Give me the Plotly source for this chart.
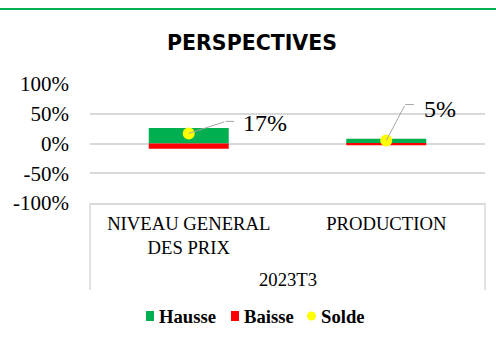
import plotly.graph_objects as go

# Survey outlook: share of positive / negative answers and the balance
categories = ["NIVEAU GENERAL<br>DES PRIX", "PRODUCTION"]
period = "2023T3"
series_names = ["Hausse", "Baisse", "Solde"]
series_colors = ["#00b050", "#ff0000", "#ffff00"]
hausse = [0.26, 0.08]
baisse = [-0.09, -0.03]
solde = [0.17, 0.05]
y_ticks = [-1.0, -0.5, 0.0, 0.5, 1.0]
y_tick_text = ["-100%", "-50%", "0%", "50%", "100%"]

W, H = 496, 341
L, R, T, B = 90, 11, 84, 138
plot_w = W - L - R
plot_h = H - T - B


def px_x(v):
    return (v - L) / plot_w


def px_y(v):
    return (H - B - v) / plot_h


serif = "Liberation Serif"
grid = "#d9d9d9"

fig = go.Figure()
fig.add_trace(go.Bar(
    x=categories, y=hausse, name=series_names[0],
    marker=dict(color=series_colors[0], line=dict(width=0)),
    hoverinfo="skip", showlegend=False,
))
fig.add_trace(go.Bar(
    x=categories, y=baisse, name=series_names[1],
    marker=dict(color=series_colors[1], line=dict(width=0)),
    hoverinfo="skip", showlegend=False,
))
fig.add_trace(go.Scatter(
    x=categories, y=solde, name=series_names[2], mode="markers",
    marker=dict(color=series_colors[2], size=12, line=dict(width=0)),
    hoverinfo="skip", showlegend=False,
))

# Data labels for the balance, joined to the point by a bent leader line
# (dx, dy: elbow offset from the point; hlen: horizontal run; gap; lift)
leader = [(37, -12, 10, 6, -2), (19, -36, 10, 8, -4)]
for cat, val, (dx, dy, hlen, gap, lift) in zip(categories, solde, leader):
    fig.add_annotation(x=cat, y=val, xref="x", yref="y", text="",
                       showarrow=True, arrowhead=0, arrowwidth=1,
                       arrowcolor="#a6a6a6", ax=dx, ay=dy,
                       axref="pixel", ayref="pixel")
    fig.add_annotation(x=cat, y=val, xref="x", yref="y", text="",
                       showarrow=True, arrowhead=0, arrowwidth=1,
                       arrowcolor="#a6a6a6", ax=hlen, ay=0,
                       xshift=dx, yshift=-dy)
    fig.add_annotation(x=cat, y=val, xref="x", yref="y",
                       text=f"{round(val * 100)}%", showarrow=False,
                       xanchor="left", yanchor="middle", borderpad=0,
                       xshift=dx + hlen + gap, yshift=-dy + lift,
                       font=dict(family=serif, size=24, color="#000000"))

# Outer group label under the category axis
fig.add_annotation(x=0.5, y=px_y(279), xref="paper", yref="paper",
                   text=period, showarrow=False, xanchor="center",
                   yanchor="middle", borderpad=0,
                   font=dict(family=serif, size=18.67, color="#000000"))

# Box around the category labels
for xv in (0, 1):
    fig.add_shape(type="line", xref="paper", yref="paper",
                  x0=xv, x1=xv, y0=0, y1=px_y(290),
                  line=dict(color=grid, width=1.5))

# Thin green rule across the top
fig.add_shape(type="line", xref="paper", yref="paper",
              x0=px_x(0), x1=px_x(W), y0=px_y(9), y1=px_y(9),
              line=dict(color="#00b050", width=2))

# Legend row: key swatch followed by the series name
legend_keys = [(146, "rect"), (231, "rect"), (307, "circle")]
legend_y = 316
for name, color, (kx, kind) in zip(series_names, series_colors, legend_keys):
    if kind == "rect":
        fig.add_shape(type="rect", xref="paper", yref="paper",
                      x0=px_x(kx), x1=px_x(kx + 8),
                      y0=px_y(legend_y + 5), y1=px_y(legend_y - 5),
                      line=dict(width=0), fillcolor=color)
        tx = kx + 12
    else:
        fig.add_shape(type="circle", xref="paper", yref="paper",
                      x0=px_x(kx), x1=px_x(kx + 9),
                      y0=px_y(legend_y + 4.5), y1=px_y(legend_y - 4.5),
                      line=dict(width=0), fillcolor=color)
        tx = kx + 13
    fig.add_annotation(x=px_x(tx), y=px_y(legend_y), xref="paper",
                       yref="paper", text=f"<b>{name}</b>", showarrow=False,
                       xanchor="left", yanchor="middle", borderpad=0,
                       font=dict(family=serif, size=18.67, color="#000000"))

fig.update_layout(
    width=W, height=H,
    margin=dict(l=L, r=R, t=T, b=B, pad=0),
    paper_bgcolor="#ffffff", plot_bgcolor="#ffffff",
    barmode="relative", bargap=0.595,
    showlegend=False,
    title=dict(text="<b>PERSPECTIVES</b>", x=252 / W, xref="container",
               xanchor="center", y=1 - 43 / H, yref="container",
               yanchor="middle",
               font=dict(family="DejaVu Sans", size=20.5, color="#000000")),
    xaxis=dict(type="category", showgrid=False, zeroline=False,
               showline=True, linecolor=grid, linewidth=1.5,
               ticks="", ticklabelstandoff=3,
               tickfont=dict(family=serif, size=18.67, color="#000000"),
               fixedrange=True),
    yaxis=dict(range=[-1, 1], tickvals=y_ticks, ticktext=y_tick_text,
               showgrid=True, gridcolor=grid, gridwidth=1.5,
               zeroline=False, showline=False, ticks="",
               ticklabelstandoff=20,
               tickfont=dict(family=serif, size=21, color="#000000"),
               fixedrange=True),
)

fig.write_html("out.html")
